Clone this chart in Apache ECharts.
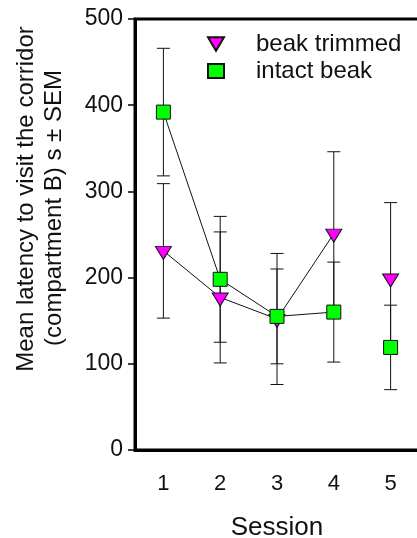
<!DOCTYPE html>
<html>
<head>
<meta charset="utf-8">
<script src="https://cdn.jsdelivr.net/npm/echarts@6/dist/echarts.min.js"></script>
<style>
html,body{margin:0;padding:0;background:#fff;}
#chart{width:417px;height:538px;}
</style>
</head>
<body>
<div id="chart"></div>
<script>
var sessions = ['1', '2', '3', '4', '5'];
var trimmedMean = [231, 177, 152, 251, 199];
var trimmedSem = [78, 76, 76, 95, 88];
var intactMean = [392, 198, 155, 160, 119];
var intactSem = [74, 73, 55, 58, 49];
var yTicks = [0, 100, 200, 300, 400, 500];
var connected = 4; // sessions 1-4 joined by lines

var FONT = 'Liberation Sans, Arial, Helvetica, sans-serif';
var TRI = 'path://M0,0L10,0L5,8.5Z';

function errData(mean, sem) {
  return mean.map(function (m, i) { return [i, m - sem[i], m + sem[i]]; });
}
function lineData(mean) {
  return mean.map(function (m, i) { return i < connected ? [i, m] : [i, null]; });
}
function pointData(mean) {
  return mean.map(function (m, i) { return [i, m]; });
}
function renderErr(params, api) {
  var x = api.value(0);
  var lo = api.coord([x, api.value(1)]);
  var hi = api.coord([x, api.value(2)]);
  var hw = 6.5;
  var st = { stroke: '#111', lineWidth: 1, fill: null };
  return {
    type: 'group',
    children: [
      { type: 'line', shape: { x1: lo[0], y1: lo[1], x2: hi[0], y2: hi[1] }, style: st },
      { type: 'line', shape: { x1: lo[0] - hw, y1: lo[1], x2: lo[0] + hw, y2: lo[1] }, style: st },
      { type: 'line', shape: { x1: hi[0] - hw, y1: hi[1], x2: hi[0] + hw, y2: hi[1] }, style: st }
    ]
  };
}

var chart = echarts.init(document.getElementById('chart'), null, { renderer: 'canvas' });
chart.setOption({
  animation: false,
  backgroundColor: '#fff',
  textStyle: { fontFamily: FONT },
  grid: { left: 135, top: 19, right: -2, bottom: 88, containLabel: false, outerBoundsMode: 'none',
          show: true, borderColor: '#000', borderWidth: 3, backgroundColor: 'transparent' },
  legend: {
    orient: 'vertical', left: 202, top: 27, itemWidth: 16, itemHeight: 14, itemGap: 3,
    textStyle: { fontSize: 24, color: '#111', fontFamily: FONT, padding: [0, 0, 0, 27] },
    data: [{ name: 'beak trimmed', icon: TRI }, { name: 'intact beak', icon: 'rect' }]
  },
  xAxis: {
    type: 'category', data: sessions, boundaryGap: true,
    name: 'Session', nameLocation: 'middle', nameGap: 65,
    nameTextStyle: { fontSize: 26, color: '#111', fontFamily: FONT },
    axisLine: { lineStyle: { color: '#000', width: 3 } },
    axisTick: { alignWithLabel: true, length: 7, lineStyle: { color: '#000', width: 1.5 } },
    axisLabel: { fontSize: 22, color: '#111', margin: 23, fontFamily: FONT },
    splitLine: { show: false }
  },
  yAxis: {
    type: 'value', min: yTicks[0], max: yTicks[yTicks.length - 1], interval: 100,
    axisLine: { show: true, lineStyle: { color: '#000', width: 3 } },
    axisTick: { show: true, length: 7, lineStyle: { color: '#000', width: 1.5 } },
    axisLabel: { fontSize: 23, color: '#111', margin: 12, fontFamily: FONT },
    splitLine: { show: false }
  },
  graphic: [
    { type: 'text', x: 26, y: 199, rotation: Math.PI / 2,
      style: { text: 'Mean latency to visit the corridor', font: '24px ' + FONT, fill: '#111', textAlign: 'center', textVerticalAlign: 'middle' } },
    { type: 'text', x: 54, y: 208, rotation: Math.PI / 2,
      style: { text: '(compartment B) s \u00b1 SEM', font: '24px ' + FONT, fill: '#111', textAlign: 'center', textVerticalAlign: 'middle' } }
  ],
  series: [
    { name: 'trimmedErr', type: 'custom', renderItem: renderErr, data: errData(trimmedMean, trimmedSem), z: 2, encode: { x: 0, y: [1, 2] } },
    { name: 'intactErr', type: 'custom', renderItem: renderErr, data: errData(intactMean, intactSem), z: 2, encode: { x: 0, y: [1, 2] } },
    { name: 'trimmedLine', type: 'line', data: lineData(trimmedMean), showSymbol: false, connectNulls: false, lineStyle: { color: '#111', width: 1 }, z: 3 },
    { name: 'intactLine', type: 'line', data: lineData(intactMean), showSymbol: false, connectNulls: false, lineStyle: { color: '#111', width: 1 }, z: 3 },
    { name: 'beak trimmed', type: 'scatter', data: pointData(trimmedMean), symbol: TRI, symbolSize: [16, 13], symbolOffset: [0, 2],
      itemStyle: { color: '#ff00ff', borderColor: '#111', borderWidth: 1, opacity: 1 }, z: 4 },
    { name: 'intact beak', type: 'scatter', data: pointData(intactMean), symbol: 'rect', symbolSize: 14,
      itemStyle: { color: '#00ff00', borderColor: '#111', borderWidth: 1, opacity: 1 }, z: 5 }
  ]
});
</script>
</body>
</html>
